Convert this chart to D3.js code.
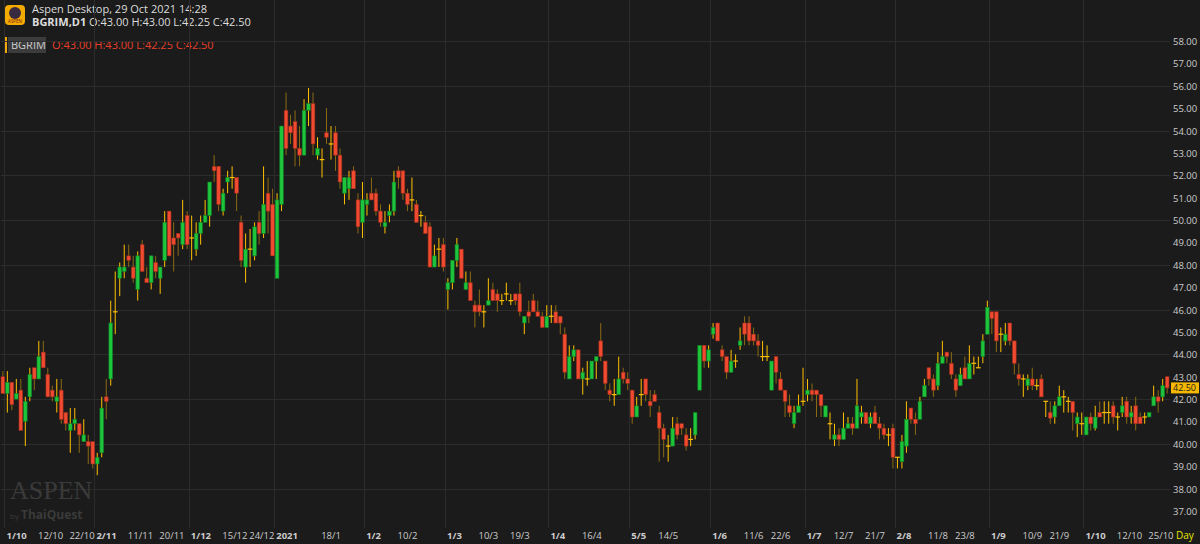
<!DOCTYPE html>
<html>
<head>
<meta charset="utf-8">
<script src="https://cdn.jsdelivr.net/npm/d3@7"></script>
<style>
  html, body { margin: 0; padding: 0; background: #1b1b1b; }
  svg { display: block; font-family: "Open Sans", "DejaVu Sans", sans-serif; }
</style>
</head>
<body>
<svg id="chart" width="1200" height="544"></svg>
<script>
// daily candles, BGRIM, 30/9/2020 .. 29/10/2021
var opens = [
  43,42.25,42.75,42,42.4,41.0,42.1,43.4,42.9,44.1, 43.1,42.4,41.9,42.4,41.4,40.6,40.9,40.9,40.1,40.1,
  40.1,39.1,39.6,42.1,42.9,45.9,47.4,47.7,48.4,47.9, 46.9,48.9,47.4,47.2,48.1,47.4,48.2,50.4,49.2,49.4,
  48.9,50.2,49.2,48.7,49.4,49.9,50.2,52.4,52.4,50.4, 51.7,51.9,51.9,49.9,47.9,48.7,48.4,49.9,49.4,51.2,
  50.7,47.4,50.7,54.9,54.2,54.4,53.2,52.9,54.9,55.2, 52.9,52.7,53.9,53.4,53.9,52.9,51.2,51.4,52.2,50.9,
  49.9,50.7,51.2,51.2,50.4,49.7,50.2,50.4,52.2,52.2, 51.2,50.9,50.7,50.2,49.9,49.7,47.9,48.7,48.9,46.9,
  47.2,48.2,48.7,46.9,47.2,46.2,46.2,45.9,46.2,46.9, 46.7,46.4,46.7,46.4,46.7,46.7,45.4,45.9,46.4,45.9,
  45.7,45.2,45.7,45.9,45.7,44.9,42.9,43.9,44.2,42.9, 42.9,42.9,43.7,44.6,43.7,42.4,42.2,42.2,43.2,42.9,
  42.4,41.2,42.2,42.9,41.9,42.2,41.4,40.7,39.9,39.9, 40.9,40.9,40.4,40.2,40.4,42.4,44.4,43.7,44.9,45.4,
  44.2,43.9,43.2,43.7,44.4,45.4,45.4,44.9,44.6,43.9, 43.9,42.4,43.9,42.9,42.4,41.7,40.9,41.4,41.9,42.2,
  42.4,42.4,42.2,41.2,40.9,40.2,40.4,40.2,40.7,40.9, 40.7,41.2,41.4,40.9,41.4,40.9,40.7,40.4,40.7,39.4,
  39.2,39.9,41.6,41.1,41.1,42.1,43.4,42.9,42.6,43.6, 44.1,43.6,42.9,42.6,43.4,42.9,43.6,43.4,43.9,44.9,
  45.9,45.9,44.9,44.6,45.4,44.6,43.1,42.9,42.6,42.9, 42.6,42.9,41.9,41.4,41.2,41.7,42.1,41.9,41.9,40.9,
  40.9,40.4,41.2,40.7,41.4,41.4,41.4,41.7,41.2,41.4, 41.9,41.2,41.7,41.2,41.2,41.2,41.7,42.1,42.1,43
];
var highs = [
  43.25,43.25,42.75,42.9,42.9,42.1,43.4,43.4,44.6,44.6, 43.4,42.6,42.9,42.9,41.4,41.6,41.6,40.9,41.1,40.4,
  40.1,39.6,42.1,42.9,46.4,47.7,48.1,48.9,48.9,48.4, 48.6,49.1,47.9,48.4,48.4,47.9,50.4,50.4,49.9,49.4,
  50.9,50.4,50.2,49.9,50.2,50.9,51.7,52.9,52.4,51.4, 52.2,52.4,51.9,50.2,49.4,49.6,49.9,50.4,52.4,51.9,
  51.4,51.2,54.2,55.7,54.7,54.9,54.2,55.4,55.9,55.7, 53.7,53.2,55.0,54.2,54.2,53.2,51.9,52.2,52.4,51.2,
  51.7,51.2,51.9,51.4,50.7,50.4,50.7,52.2,52.4,52.2, 51.4,51.9,50.9,50.4,50.2,49.9,48.9,49.2,49.2,47.4,
  48.2,49.2,48.7,47.7,47.7,46.4,46.9,46.2,47.4,47.2, 46.9,46.7,47.2,46.7,46.7,47.2,45.7,46.4,46.7,46.4,
  45.9,46.2,46.2,46.2,45.7,45.2,44.4,44.4,44.2,43.4, 43.7,43.7,43.9,45.4,43.7,42.7,42.9,43.9,43.4,43.2,
  42.4,42.1,42.9,42.9,42.4,42.4,41.7,40.9,40.4,41.2, 41.2,40.9,40.7,40.7,41.4,44.4,44.4,44.4,45.4,45.4,
  44.4,43.9,44.2,44.0,45.2,45.7,45.7,45.2,44.9,44.6, 44.4,43.7,43.9,43.2,42.4,42.2,41.7,42.2,43.4,42.9,
  42.7,42.4,42.2,41.7,41.4,40.9,40.7,41.4,41.2,41.2, 42.9,41.7,41.4,41.4,41.7,41.2,40.9,40.7,40.9,39.4,
  40.4,41.9,41.6,41.4,42.1,42.9,43.4,43.1,44.1,44.6, 44.1,44.1,43.1,43.4,43.9,44.4,43.9,43.9,44.9,46.4,
  45.9,45.9,45.2,45.4,45.4,44.6,43.6,43.1,43.1,43.4, 42.9,43.1,41.9,41.9,41.9,42.6,42.4,42.1,41.9,41.4,
  41.4,41.2,41.4,41.7,41.9,41.9,41.9,41.9,41.4,42.1, 42.1,41.7,42.1,41.4,41.4,41.4,42.6,42.4,42.9,43
];
var lows = [
  42.25,41.4,41.5,42,40.6,39.9,41.9,42.4,42.9,43.4, 42.1,41.9,41.4,40.9,40.6,39.6,40.6,39.6,40.1,39.1,
  38.9,38.6,39.4,41.1,42.6,44.9,46.6,47.4,47.9,47.2, 46.4,47.7,47.2,46.9,47.4,46.7,47.9,48.4,47.7,48.4,
  48.7,48.7,48.2,48.4,48.9,49.9,49.7,51.7,50.4,50.2, 51.2,51.4,50.4,47.9,47.2,47.9,48.2,48.9,49.2,49.4,
  48.4,47.4,50.4,52.9,53.4,52.4,52.4,52.9,54.2,52.9, 52.7,51.9,53.4,52.7,52.2,51.4,50.7,50.9,51.4,49.4,
  49.2,50.2,50.9,50.2,49.7,49.4,49.9,50.2,51.4,50.9, 50.4,50.4,49.9,49.7,49.4,47.9,47.9,47.9,47.7,46.0,
  46.9,47.9,47.4,46.9,46.4,45.2,45.7,45.2,46.2,46.4, 45.9,46.2,46.4,46.2,46.2,45.7,44.9,45.4,45.9,45.7,
  45.2,45.2,45.4,45.4,44.9,42.9,42.9,43.7,42.9,42.2, 42.6,42.9,42.9,43.7,42.4,41.9,41.7,42.2,42.7,42.4,
  40.9,41.2,41.7,41.9,41.2,41.9,39.2,39.4,39.2,39.9, 40.2,40.4,39.7,39.9,40.2,42.4,43.4,43.4,44.7,44.6,
  43.7,42.9,43.2,43.4,44.2,44.4,44.4,44.4,43.9,43.7, 43.7,42.4,42.7,42.4,41.2,41.2,40.7,41.4,41.7,41.9,
  41.9,41.2,41.2,41.2,40.2,39.9,39.9,40.2,40.7,40.4, 40.7,40.9,40.9,40.7,40.9,40.2,40.2,39.9,38.9,38.9,
  38.9,39.6,40.9,40.4,41.1,42.1,42.6,42.1,42.4,43.6, 43.6,42.9,42.1,42.6,42.9,42.9,43.1,43.4,43.6,44.9,
  44.9,44.1,44.1,44.4,44.4,43.1,42.6,42.1,42.4,42.4, 42.4,42.1,41.2,40.9,40.9,41.7,41.4,41.4,40.6,40.3,
  40.4,40.4,40.6,40.6,41.2,40.9,40.9,40.9,40.6,41.2, 40.9,40.9,40.6,40.9,40.9,41.2,41.7,41.4,41.9,42.25
];
var closes = [
  42.25,42.75,41.75,42.25,40.6,41.9,43.1,42.9,43.9,43.4, 42.1,42.1,42.1,41.1,40.9,40.9,41.1,40.4,40.4,39.9,
  39.1,39.4,41.6,41.9,45.4,45.9,47.9,47.9,48.2,47.4, 48.4,47.7,47.2,48.4,47.7,47.9,49.9,48.4,48.9,49.2,
  49.9,48.9,49.2,49.4,49.9,50.2,51.7,52.2,50.7,51.2, 51.9,51.9,51.2,48.2,48.7,48.7,49.7,49.4,50.7,50.4,
  48.4,50.9,54.2,53.2,53.9,53.2,52.9,54.9,55.2,53.4, 53.2,52.7,53.7,53.4,52.9,51.7,51.9,51.9,51.4,49.7,
  50.9,50.9,50.9,50.4,49.9,49.9,50.4,51.7,51.9,51.2, 50.7,50.9,49.9,50.2,49.4,47.9,48.4,48.7,47.9,47.2,
  48.2,48.9,47.4,47.2,46.4,45.9,45.9,45.9,46.4,46.4, 46.4,46.4,46.7,46.4,46.4,45.9,45.7,45.7,45.9,45.7,
  45.2,45.7,45.7,45.4,45.4,43.2,43.9,44.2,42.9,43.2, 42.9,43.7,43.9,43.9,42.7,42.2,42.2,42.9,42.9,42.7,
  41.2,41.7,42.2,42.2,41.7,41.9,40.7,40.2,39.9,40.7, 40.4,40.7,39.9,40.2,41.4,44.4,43.7,44.2,45.2,44.6,
  43.9,43.2,43.7,43.7,44.6,44.9,44.6,44.6,44.4,43.9, 43.9,43.7,43.2,42.4,41.9,41.4,41.4,41.7,41.9,42.4,
  42.2,42.2,41.7,41.7,40.9,40.4,40.2,40.7,40.9,40.7, 41.7,41.4,40.9,41.2,40.9,40.7,40.4,40.4,39.4,39.4,
  40.1,41.1,41.1,40.9,41.9,42.6,42.9,42.4,43.6,43.9, 43.9,43.1,42.4,43.1,42.9,43.6,43.6,43.4,44.6,46.1,
  45.6,44.6,44.9,44.9,44.6,43.6,42.9,42.9,42.9,42.6, 42.6,42.1,41.9,41.15,41.7,42.1,42.1,41.9,41.4,41.2,
  40.9,41.2,40.9,41.2,41.2,41.4,41.4,41.2,41.2,41.7, 41.2,41.4,40.9,40.9,41.2,41.4,42.1,41.9,42.6,42.5
];
var priceTicks = [37,38,39,40,41,42,43,44,45,46,47,48,49,50,51,52,53,54,55,56,57,58];
// [candle index, label, month start]
var dateTicks = [
  [1,'1/10',1],[8,'12/10',0],[15,'22/10',0],[21,'2/11',1],[28,'11/11',0],[35,'20/11',0],
  [42,'1/12',1],[49,'15/12',0],[55,'24/12',0],[61,'2021',1],[71,'18/1',0],[81,'1/2',1],
  [88,'10/2',0],[99,'1/3',1],[106,'10/3',0],[113,'19/3',0],[122,'1/4',1],[129,'16/4',0],
  [140,'5/5',1],[146,'14/5',0],[158,'1/6',1],[165,'11/6',0],[171,'22/6',0],[179,'1/7',1],
  [185,'12/7',0],[192,'21/7',0],[199,'2/8',1],[206,'11/8',0],[212,'23/8',0],[220,'1/9',1],
  [227,'10/9',0],[233,'21/9',0],[241,'1/10',1],[248,'12/10',0],[255,'25/10',0]
];

var svg = d3.select('#chart'),
    left = 1, right = 1170, top = 34, bottom = 528;

var x = d3.scaleBand().domain(d3.range(opens.length)).range([left, right - 1]).paddingInner(0.18);
var y = d3.scaleLinear().domain([37, 58]).range([511, 41]);

var candles = opens.map(function(o, i) {
  return { i: i, o: o, h: highs[i], l: lows[i], c: closes[i] };
});

// header
svg.append('rect').attr('width', 1200).attr('height', 544).attr('fill', '#1b1b1b');
svg.append('rect').attr('x', left).attr('y', top).attr('width', right - left).attr('height', bottom - top)
  .attr('fill', '#1f1f1f').attr('stroke', '#3a3a3a');
svg.append('rect').attr('x', 5).attr('y', 5).attr('width', 20).attr('height', 20).attr('rx', 4).attr('fill', '#f2a900');
svg.append('circle').attr('cx', 15).attr('cy', 13).attr('r', 6).attr('fill', '#3a2a40');
svg.append('text').attr('x', 15).attr('y', 23).attr('text-anchor', 'middle').attr('font-size', 4.5)
  .attr('fill', '#7a1a1a').text('ASPEN');
svg.append('text').attr('x', 32).attr('y', 13).attr('font-size', 11).attr('fill', '#dddddd')
  .text('Aspen Desktop, 29 Oct 2021 14:28');
var t2 = svg.append('text').attr('x', 32).attr('y', 26).attr('font-size', 11).attr('fill', '#dddddd');
t2.append('tspan').attr('font-weight', 'bold').text('BGRIM,D1');
t2.append('tspan').text('  O:43.00 H:43.00 L:42.25 C:42.50');

// legend
svg.append('rect').attr('x', 5).attr('y', 37).attr('width', 2).attr('height', 16).attr('fill', '#f2a900');
svg.append('rect').attr('x', 8).attr('y', 37).attr('width', 38).attr('height', 16).attr('fill', '#3c3c3c');
svg.append('text').attr('x', 11).attr('y', 49).attr('font-size', 11).attr('fill', '#cccccc').text('BGRIM');
svg.append('text').attr('x', 52).attr('y', 49).attr('font-size', 11).attr('fill', '#e8402a')
  .text('O:43.00 H:43.00 L:42.25 C:42.50');

// grid
svg.append('g').selectAll('line').data(priceTicks.filter(function(d) { return d % 2 === 0; }))
  .enter().append('line')
  .attr('x1', left).attr('x2', right).attr('y1', function(d) { return Math.round(y(d)) + 0.5; })
  .attr('y2', function(d) { return Math.round(y(d)) + 0.5; }).attr('stroke', '#2c2c2c');
svg.append('g').selectAll('line').data(dateTicks.filter(function(d) { return d[2]; }))
  .enter().append('line')
  .attr('y1', top).attr('y2', bottom)
  .attr('x1', function(d) { return Math.round(x(d[0]) - 1) + 0.5; })
  .attr('x2', function(d) { return Math.round(x(d[0]) - 1) + 0.5; }).attr('stroke', '#2c2c2c');

// watermark
svg.append('text').attr('x', 10).attr('y', 499).attr('font-family', '"Liberation Serif", serif')
  .attr('font-size', 26).attr('fill', '#3a3a3a').text('ASPEN');
var wm = svg.append('text').attr('x', 10).attr('y', 519).attr('fill', '#3a3a3a');
wm.append('tspan').attr('font-size', 8).text('by ');
wm.append('tspan').attr('font-size', 12).attr('font-weight', 'bold').text('ThaiQuest');

// candles
var bw = x.bandwidth();
var g = svg.append('g');
g.selectAll('line.wick').data(candles).enter().append('line')
  .attr('x1', function(d) { return x(d.i) + bw / 2; })
  .attr('x2', function(d) { return x(d.i) + bw / 2; })
  .attr('y1', function(d) { return y(d.h); })
  .attr('y2', function(d) { return y(d.l); })
  .attr('stroke', function(d) { return d.c < d.o ? '#8c6a14' : '#ffc000'; })
  .attr('stroke-width', 1);
g.selectAll('rect.body').data(candles.filter(function(d) { return d.c !== d.o; })).enter().append('rect')
  .attr('x', function(d) { return x(d.i); })
  .attr('width', bw)
  .attr('y', function(d) { return y(Math.max(d.o, d.c)); })
  .attr('height', function(d) { return Math.max(1, Math.abs(y(d.o) - y(d.c))); })
  .attr('fill', function(d) { return d.c > d.o ? '#1ec43c' : '#f04a30'; })
  .attr('stroke', function(d) { return d.c > d.o ? '#0f7a24' : '#9a2c1c'; })
  .attr('stroke-width', 0.6);
g.selectAll('line.doji').data(candles.filter(function(d) { return d.c === d.o; })).enter().append('line')
  .attr('x1', function(d) { return x(d.i) - 0.5; })
  .attr('x2', function(d) { return x(d.i) + bw + 0.5; })
  .attr('y1', function(d) { return y(d.c); })
  .attr('y2', function(d) { return y(d.c); })
  .attr('stroke', '#ffc000').attr('stroke-width', 1.2);

// price axis
svg.append('g').selectAll('text').data(priceTicks).enter().append('text')
  .attr('x', 1173).attr('y', function(d) { return y(d) + 4; })
  .attr('font-size', 9.5).attr('fill', '#cccccc')
  .text(function(d) { return d3.format('.2f')(d); });
var last = closes[closes.length - 1];
svg.append('rect').attr('x', 1171).attr('y', y(last) - 5.5).attr('width', 28).attr('height', 11).attr('fill', '#f5b800');
svg.append('text').attr('x', 1173).attr('y', y(last) + 3.5).attr('font-size', 9).attr('fill', '#1b1b1b')
  .text(d3.format('.2f')(last));

// date axis
svg.append('g').selectAll('text').data(dateTicks).enter().append('text')
  .attr('x', function(d) { return x(d[0]) + 1; }).attr('y', 539)
  .attr('font-size', 9.5).attr('fill', '#cccccc')
  .attr('font-weight', function(d) { return d[2] ? 'bold' : 'normal'; })
  .text(function(d) { return d[1]; });
svg.append('text').attr('x', 1176).attr('y', 539).attr('font-size', 10).attr('fill', '#e6e600').text('Day');
</script>
</body>
</html>
